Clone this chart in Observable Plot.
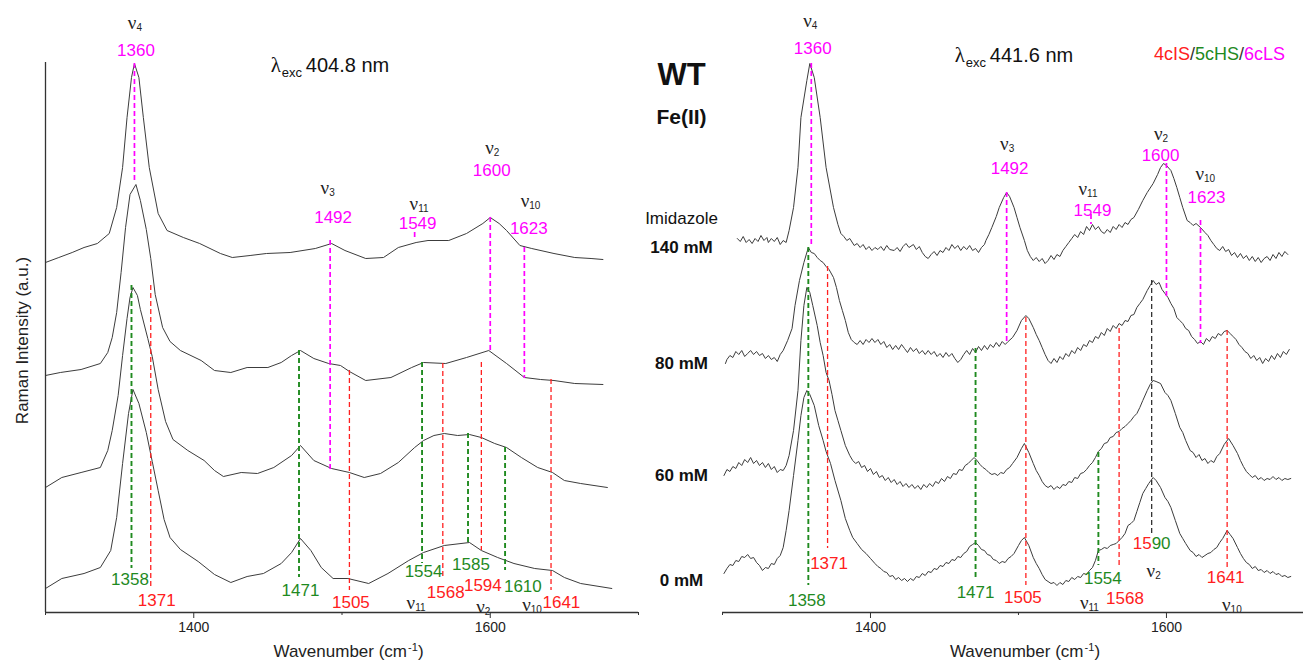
<!DOCTYPE html>
<html><head><meta charset="utf-8">
<script src="https://cdn.jsdelivr.net/npm/d3@7"></script>
<script src="https://cdn.jsdelivr.net/npm/@observablehq/plot@0.6"></script>
<style>
body{margin:0;background:#fff;}
#wrap{position:relative;width:1303px;height:665px;overflow:hidden;font-family:"Liberation Sans",Arial,sans-serif;}
#left{position:absolute;left:0;top:0;}
#right{position:absolute;left:650px;top:0;}
#legend{position:absolute;right:18px;top:44px;font-size:18px;white-space:nowrap;color:#333;}
</style></head><body>
<div id="wrap"><div id="left"></div><div id="right"></div>
<div id="legend"><span style="color:#ff2020">4cIS</span>/<span style="color:#1f8a1f">5cHS</span>/<span style="color:#ff00ff">6cLS</span></div>
</div>
<script>
// ---------- DATA ----------
const majorTicks = [1400, 1600];
const minorTicks = [1300, 1500, 1700];

// Left panel (λexc 404.8 nm), wavenumber (cm-1) vs Raman intensity (a.u., stacked)
const left1 = [[1300,350],[1309,355],[1318,360],[1326,365],[1335,369],[1343,379],[1348,405],[1352,445],[1355,495],[1358,535],[1360,549],[1363,535],[1366,495],[1370,445],[1376,399],[1382,382],[1393,375],[1404,369],[1418,359],[1426,355],[1438,357],[1449,359],[1465,360],[1482,364],[1493,369],[1502,362],[1516,354],[1528,355],[1538,365],[1550,370],[1558,372],[1572,372],[1584,379],[1595,389],[1600,395],[1606,389],[1611,382],[1620,367],[1628,364],[1643,359],[1657,355],[1668,354],[1676,353]];
const left2 = [[1300,237],[1310,240],[1324,243],[1337,249],[1342,260],[1345,275],[1348,300],[1351,340],[1354,385],[1357,418],[1361,428],[1364,412],[1368,383],[1371,354],[1374,318],[1379,285],[1384,271],[1391,262],[1405,252],[1414,242],[1425,240],[1436,245],[1450,245],[1459,250],[1466,257],[1472,262],[1481,254],[1491,249],[1499,247],[1505,241],[1516,232],[1533,235],[1547,245],[1555,250],[1570,249],[1584,255],[1599,262],[1611,249],[1623,235],[1634,233],[1643,232],[1657,229],[1676,228]];
const left3 = [[1300,125],[1311,135],[1324,140],[1337,145],[1342,162],[1345,182],[1349,217],[1352,257],[1355,294],[1357,315],[1359,325],[1362,317],[1364,303],[1369,274],[1372,256],[1376,223],[1381,191],[1386,173],[1396,162],[1407,152],[1414,142],[1420,136],[1432,140],[1443,139],[1454,145],[1466,157],[1472,167],[1481,152],[1493,144],[1505,140],[1515,135],[1526,139],[1538,150],[1549,165],[1555,172],[1562,177],[1569,179],[1578,177],[1586,178],[1594,175],[1603,169],[1611,165],[1621,155],[1632,145],[1642,140],[1650,132],[1661,129],[1679,125]];
const left4 = [[1300,24],[1311,34],[1326,39],[1337,45],[1344,62],[1348,95],[1352,149],[1356,199],[1359,223],[1363,209],[1368,180],[1372,151],[1376,122],[1380,93],[1384,75],[1391,63],[1403,51],[1414,38],[1425,30],[1436,36],[1447,39],[1459,49],[1466,60],[1472,74],[1479,62],[1486,45],[1494,34],[1504,34],[1518,29],[1531,39],[1545,52],[1555,60],[1569,67],[1586,70],[1594,62],[1605,55],[1616,49],[1630,44],[1642,42],[1650,35],[1661,29],[1682,24]];

// Right panel (λexc 441.6 nm), imidazole series
const right140 = [[1310,374],[1312,371],[1314,376],[1316,370],[1318,373],[1320,369],[1322,374],[1324,371],[1326,377],[1328,372],[1330,375],[1331,370],[1333,374],[1335,371],[1337,375],[1339,368],[1341,372],[1343,370],[1345,382],[1348,405],[1351,445],[1353,495],[1357,532],[1359,549],[1362,535],[1366,495],[1370,445],[1375,405],[1378,388],[1380,379],[1382,376],[1384,372],[1386,374],[1389,367],[1391,369],[1393,365],[1395,368],[1397,363],[1399,366],[1401,362],[1403,365],[1405,363],[1407,366],[1409,362],[1411,367],[1413,363],[1416,362],[1418,365],[1420,361],[1422,366],[1424,369],[1426,365],[1429,368],[1431,363],[1433,366],[1435,360],[1437,356],[1439,354],[1441,358],[1443,361],[1445,357],[1447,362],[1449,360],[1451,365],[1453,362],[1455,368],[1457,364],[1459,367],[1461,362],[1463,366],[1465,363],[1467,367],[1469,362],[1471,364],[1473,360],[1475,365],[1477,368],[1478,372],[1480,378],[1482,385],[1485,396],[1487,405],[1490,415],[1492,420],[1494,416],[1497,405],[1499,395],[1501,385],[1504,372],[1506,362],[1508,356],[1510,352],[1512,355],[1514,351],[1516,354],[1518,349],[1520,352],[1522,357],[1524,353],[1526,358],[1528,356],[1530,362],[1532,366],[1534,370],[1536,374],[1538,378],[1540,375],[1542,381],[1544,378],[1546,386],[1548,382],[1550,388],[1552,383],[1554,386],[1556,381],[1558,379],[1560,383],[1562,380],[1564,386],[1566,383],[1568,388],[1570,385],[1572,390],[1574,388],[1576,393],[1578,395],[1581,403],[1584,412],[1587,420],[1591,429],[1594,438],[1596,445],[1598,449],[1600,447],[1603,442],[1605,434],[1607,425],[1609,415],[1611,405],[1614,392],[1616,390],[1618,387],[1620,389],[1623,385],[1626,380],[1628,377],[1630,372],[1632,368],[1634,364],[1636,362],[1638,366],[1640,361],[1642,363],[1644,357],[1646,360],[1648,355],[1650,359],[1652,354],[1654,357],[1656,352],[1658,356],[1660,351],[1662,355],[1664,350],[1666,354],[1668,356],[1670,352],[1672,358],[1674,354],[1676,360],[1678,356],[1680,361],[1682,358]];
const right80 = [[1302,249],[1303,253],[1305,257],[1307,255],[1309,261],[1311,258],[1313,262],[1315,256],[1317,259],[1319,262],[1321,258],[1323,261],[1325,257],[1327,259],[1329,254],[1331,257],[1333,253],[1335,255],[1337,251],[1339,258],[1341,262],[1344,272],[1347,284],[1349,307],[1352,332],[1355,350],[1358,365],[1360,360],[1362,359],[1364,355],[1366,352],[1368,350],[1370,346],[1372,343],[1375,335],[1377,325],[1379,312],[1381,302],[1383,292],[1385,280],[1387,273],[1389,270],[1391,268],[1393,272],[1395,268],[1397,273],[1399,270],[1401,274],[1403,270],[1405,273],[1407,268],[1409,271],[1411,265],[1413,268],[1415,263],[1417,267],[1419,263],[1421,268],[1423,264],[1425,260],[1427,265],[1429,261],[1431,264],[1433,259],[1435,262],[1437,258],[1439,262],[1441,258],[1443,261],[1445,256],[1447,259],[1449,255],[1451,260],[1453,256],[1455,259],[1457,254],[1459,250],[1461,253],[1463,258],[1465,262],[1467,258],[1469,264],[1471,260],[1473,266],[1475,262],[1477,267],[1479,263],[1481,268],[1483,265],[1485,270],[1487,266],[1489,271],[1491,268],[1493,271],[1496,275],[1499,282],[1502,292],[1505,297],[1507,294],[1510,285],[1512,278],[1514,272],[1516,265],[1518,258],[1520,252],[1522,249],[1524,254],[1526,250],[1528,256],[1530,253],[1532,259],[1534,256],[1536,262],[1538,259],[1540,265],[1542,262],[1544,268],[1546,266],[1548,272],[1550,270],[1552,276],[1554,274],[1556,280],[1558,277],[1560,284],[1562,281],[1564,287],[1566,284],[1568,289],[1570,287],[1572,292],[1574,291],[1576,297],[1578,298],[1580,305],[1582,309],[1584,313],[1587,322],[1589,327],[1591,332],[1593,328],[1595,330],[1597,323],[1599,319],[1601,315],[1603,309],[1605,304],[1607,295],[1609,292],[1611,289],[1613,284],[1615,282],[1617,276],[1619,273],[1621,269],[1623,271],[1625,268],[1627,274],[1629,271],[1631,276],[1633,274],[1635,279],[1637,277],[1639,281],[1641,282],[1643,279],[1645,276],[1647,273],[1649,268],[1651,265],[1653,261],[1655,259],[1657,254],[1659,257],[1661,252],[1663,255],[1665,249],[1667,254],[1669,251],[1671,257],[1673,253],[1675,259],[1677,255],[1679,261],[1681,258],[1683,263]];
const right60 = [[1301,137],[1303,143],[1305,141],[1307,146],[1309,144],[1311,150],[1313,147],[1315,153],[1317,150],[1319,155],[1321,149],[1323,152],[1325,147],[1327,150],[1329,145],[1331,149],[1333,143],[1335,146],[1337,140],[1339,143],[1341,142],[1343,147],[1345,157],[1348,182],[1351,222],[1353,272],[1355,307],[1357,325],[1359,320],[1361,307],[1364,287],[1366,270],[1368,257],[1370,240],[1372,232],[1374,218],[1376,202],[1378,192],[1380,182],[1383,167],[1386,157],[1388,152],[1390,149],[1392,151],[1394,145],[1396,147],[1398,141],[1400,144],[1402,138],[1404,141],[1406,135],[1408,137],[1410,132],[1412,135],[1414,130],[1416,133],[1418,128],[1420,131],[1422,126],[1424,129],[1426,125],[1428,128],[1430,124],[1432,127],[1434,123],[1436,128],[1438,125],[1440,129],[1442,126],[1444,131],[1446,129],[1448,134],[1450,131],[1452,136],[1454,134],[1456,139],[1458,138],[1460,143],[1462,142],[1464,147],[1466,149],[1468,152],[1470,155],[1472,152],[1474,148],[1476,145],[1478,143],[1480,140],[1482,138],[1484,139],[1486,137],[1488,140],[1490,139],[1492,143],[1494,145],[1496,149],[1499,155],[1502,164],[1504,169],[1507,160],[1510,149],[1512,142],[1514,137],[1516,131],[1518,127],[1520,125],[1522,127],[1524,123],[1526,126],[1528,124],[1530,128],[1532,127],[1534,131],[1536,130],[1538,135],[1540,134],[1542,139],[1544,140],[1546,143],[1548,147],[1550,150],[1552,155],[1554,161],[1556,164],[1558,169],[1560,170],[1562,175],[1564,176],[1566,180],[1568,181],[1570,184],[1572,186],[1574,189],[1576,192],[1578,196],[1580,199],[1582,205],[1584,212],[1587,222],[1589,228],[1591,232],[1593,231],[1596,229],[1599,220],[1601,217],[1603,212],[1606,199],[1609,185],[1611,180],[1613,172],[1616,162],[1618,160],[1620,155],[1622,158],[1624,152],[1626,154],[1628,149],[1630,152],[1632,150],[1634,156],[1636,159],[1639,168],[1642,174],[1645,167],[1648,159],[1650,152],[1652,146],[1654,141],[1656,138],[1658,135],[1660,137],[1662,133],[1664,135],[1666,132],[1668,134],[1670,133],[1672,136],[1674,133],[1676,135],[1678,132],[1680,134],[1682,133],[1684,134]];
const right0 = [[1301,39],[1303,44],[1305,48],[1307,47],[1309,52],[1311,51],[1313,56],[1315,55],[1317,58],[1319,54],[1321,55],[1323,50],[1325,47],[1327,42],[1329,45],[1331,44],[1333,49],[1335,48],[1337,54],[1339,57],[1341,65],[1343,82],[1345,102],[1348,137],[1351,172],[1353,197],[1355,215],[1357,222],[1359,218],[1362,207],[1365,187],[1368,172],[1370,161],[1373,149],[1376,132],[1380,112],[1383,94],[1386,82],[1388,75],[1391,69],[1394,63],[1397,59],[1400,54],[1403,49],[1405,46],[1407,44],[1409,41],[1411,40],[1413,36],[1415,37],[1417,33],[1419,35],[1421,32],[1423,34],[1425,31],[1427,34],[1429,32],[1431,36],[1433,35],[1435,39],[1437,37],[1439,41],[1441,40],[1443,44],[1445,43],[1447,47],[1449,46],[1451,50],[1453,49],[1455,53],[1457,52],[1459,56],[1461,55],[1463,59],[1465,61],[1467,66],[1469,68],[1471,70],[1473,67],[1475,63],[1477,62],[1479,58],[1481,57],[1483,53],[1485,52],[1487,49],[1489,51],[1491,50],[1493,54],[1495,56],[1497,59],[1500,67],[1502,72],[1504,75],[1507,67],[1510,55],[1512,49],[1514,44],[1516,38],[1518,33],[1520,31],[1522,29],[1524,30],[1526,27],[1528,30],[1530,28],[1532,32],[1534,31],[1536,35],[1538,33],[1540,36],[1542,35],[1544,39],[1546,38],[1548,42],[1550,45],[1552,52],[1554,62],[1556,63],[1558,65],[1560,64],[1562,67],[1564,68],[1566,69],[1568,72],[1570,75],[1572,79],[1574,87],[1576,89],[1578,92],[1580,101],[1582,110],[1584,119],[1586,124],[1588,129],[1591,135],[1593,132],[1596,125],[1599,115],[1601,111],[1603,105],[1606,92],[1609,79],[1611,74],[1613,69],[1616,62],[1618,60],[1620,56],[1622,58],[1624,55],[1626,57],[1628,59],[1630,60],[1632,63],[1634,65],[1636,70],[1638,74],[1641,82],[1643,78],[1645,74],[1648,65],[1650,59],[1652,54],[1654,50],[1656,48],[1658,44],[1660,46],[1662,42],[1664,43],[1666,40],[1668,42],[1670,39],[1672,41],[1674,38],[1676,39],[1678,36],[1680,37],[1682,35],[1684,36]];

// Band marker lines: [wavenumber, top intensity, bottom intensity, class]
const leftBands = [
  [1360,549,430,"6cLS"],[1492,372,142,"6cLS"],[1549,380,372,"6cLS"],[1600,395,262,"6cLS"],[1623,365,234,"6cLS"],
  [1358,327,44,"5cHS"],[1471,262,35,"5cHS"],[1554,250,49,"5cHS"],[1585,179,69,"5cHS"],[1610,165,42,"5cHS"],
  [1371,327,24,"4cIS"],[1505,242,22,"4cIS"],[1568,249,34,"4cIS"],[1594,250,62,"4cIS"],[1641,233,22,"4cIS"]
];
const rightBands = [
  [1360,549,365,"6cLS"],[1492,420,270,"6cLS"],[1549,398,388,"6cLS"],[1600,449,315,"6cLS"],[1623,392,269,"6cLS"],
  [1358,365,27,"5cHS"],[1471,264,32,"5cHS"],[1554,160,47,"5cHS"],
  [1371,346,64,"4cIS"],[1505,295,27,"4cIS"],[1568,284,47,"4cIS"],[1641,282,44,"4cIS"],
  [1590,332,79,"mixed"]
];

// Band labels: [text, wavenumber, intensity, class, anchor]
const leftBandLabels = [
  ["1360",1361,562,"6cLS"],["1492",1494,395,"6cLS"],["1549",1551,389,"6cLS"],["1600",1601,442,"6cLS"],["1623",1626,384,"6cLS"],
  ["1358",1357,33,"5cHS"],["1371",1375,12,"4cIS"],["1471",1472,22,"5cHS"],["1505",1506,10,"4cIS"],["1554",1555,41,"5cHS"],
  ["1568",1570,20,"4cIS"],["1585",1587,48,"5cHS"],["1594",1595,27,"4cIS"],["1610",1622,26,"5cHS"],["1641",1648,10,"4cIS"]
];
const rightBandLabels = [
  ["1360",1361,564,"6cLS"],["1492",1494,444,"6cLS"],["1549",1550,402,"6cLS"],["1600",1596,457,"6cLS"],["1623",1627,415,"6cLS"],
  ["1358",1357,12,"5cHS"],["1371",1372,49,"4cIS"],["1471",1471,20,"5cHS"],["1505",1503,15,"4cIS"],["1554",1557,34,"5cHS"],
  ["1568",1572,14,"4cIS"],["1641",1640,35,"4cIS"],["15",1590,69,"4cIS","end"],["90",1590,69,"5cHS","start"]
];
// Mode labels ν_n: [subscript, wavenumber, intensity]
const leftModes = [["4",1360,590],["3",1490,425],["11",1550,409],["2",1601,465],["10",1625,412],["11",1548,10],["2",1595,6],["10",1626,8]];
const rightModes = [["4",1359,592],["3",1492,469],["11",1545,424],["2",1596,479],["10",1624,439],["11",1546,10],["2",1591,42],["10",1642,8]];

const excitation = [["404.8 nm",1452,547],["441.6 nm",1457,557]];
const sampleLabels = [["WT",537,"bold",31],["Fe(II)",495,"bold",21],["Imidazole",394,"normal",17],["140 mM",365,"bold",17],["80 mM",249,"bold",17],["60 mM",137,"bold",17],["0 mM",32,"bold",17]];

// ---------- STYLE ----------
const FONT = "'Liberation Sans', Arial, Helvetica, sans-serif";
const SERIF = "'Liberation Serif', 'Times New Roman', serif";
const COL = {"6cLS":"#ff00ff","5cHS":"#1f8a1f","4cIS":"#ff2020","mixed":"#333333"};
const WID = {"6cLS":1.7,"5cHS":1.9,"4cIS":1.3,"mixed":1.3};
const TRACE = "#3c3c3c";

function panel({traces, bands, labels, modes, exc, width, marginLeft, marginRight, domain, yAxis, extra}) {
  const marks = [];
  for (const t of traces) marks.push(Plot.line(t, {x: d => d[0], y: d => d[1], stroke: TRACE, strokeWidth: 1}));
  for (const cls of Object.keys(COL)) {
    const b = bands.filter(d => d[3] === cls);
    if (b.length) marks.push(Plot.ruleX(b, {x: d => d[0], y1: d => d[1], y2: d => d[2], stroke: COL[cls], strokeWidth: WID[cls], strokeDasharray: "5,3"}));
  }
  for (const cls of Object.keys(COL)) {
    for (const anchor of ["middle","start","end"]) {
      const l = labels.filter(d => d[3] === cls && (d[4] || "middle") === anchor);
      if (l.length) marks.push(Plot.text(l, {x: d => d[1], y: d => d[2], text: d => d[0], fill: COL[cls], fontSize: 17, fontFamily: FONT, textAnchor: anchor}));
    }
  }
  marks.push(Plot.text(modes, {x: d => d[1], y: d => d[2], text: () => "ν", fontFamily: SERIF, fontSize: 19, textAnchor: "end", dx: 2, fill: "#222"}));
  marks.push(Plot.text(modes, {x: d => d[1], y: d => d[2], text: d => d[0], fontFamily: FONT, fontSize: 10, textAnchor: "start", dx: 2, dy: 5, fill: "#222"}));
  marks.push(Plot.text([exc], {x: d => d[1], y: d => d[2], text: () => "λ", fontFamily: SERIF, fontSize: 21, textAnchor: "start", fill: "#111"}));
  marks.push(Plot.text([exc], {x: d => d[1], y: d => d[2], text: () => "exc", fontFamily: FONT, fontSize: 13, textAnchor: "start", dx: 11, dy: 7, fill: "#111"}));
  marks.push(Plot.text([exc], {x: d => d[1], y: d => d[2], text: d => d[0], fontFamily: FONT, fontSize: 20, textAnchor: "start", dx: 35, fill: "#111"}));
  // axes
  marks.push(Plot.ruleY([0], {stroke: "#333", strokeWidth: 1.3}));
  marks.push(Plot.axisX({ticks: majorTicks, tickSize: 6, tickPadding: 4, tickFormat: d => String(d), label: null, fontSize: 14, fill: "#222", stroke: "#333"}));
  marks.push(Plot.axisX({ticks: minorTicks.filter(t => t <= domain[1] + 0.5), tickSize: 3, tickFormat: () => "", label: null, stroke: "#333"}));
  marks.push(Plot.text(["Wavenumber (cm"], {x: () => 1500, frameAnchor: "bottom", text: d => d, dy: 44, dx: 65, textAnchor: "end", fontSize: 17, fontFamily: FONT, fill: "#222"}));
  marks.push(Plot.text(["-1"], {x: () => 1500, frameAnchor: "bottom", text: d => d, dy: 38, dx: 66, textAnchor: "start", fontSize: 11, fontFamily: FONT, fill: "#222"}));
  marks.push(Plot.text([")"], {x: () => 1500, frameAnchor: "bottom", text: d => d, dy: 44, dx: 76, textAnchor: "start", fontSize: 17, fontFamily: FONT, fill: "#222"}));
  if (yAxis) {
    marks.push(Plot.ruleX([1300], {y1: 0, y2: 550, stroke: "#333", strokeWidth: 1.3}));
    marks.push(Plot.text(["Raman Intensity (a.u.)"], {x: () => 1300, y: () => 272, text: d => d, rotate: -90, dx: -23, fontSize: 17, fontFamily: FONT, fill: "#222"}));
  }
  if (extra) marks.push(...extra);
  return Plot.plot({
    width, height: 665, marginLeft, marginRight, marginTop: 0, marginBottom: 53,
    x: {domain, axis: null}, y: {domain: [0, 612], axis: null},
    style: {background: "transparent", overflow: "visible", fontFamily: FONT},
    marks
  });
}

document.getElementById("left").append(panel({
  traces: [left1, left2, left3, left4], bands: leftBands, labels: leftBandLabels, modes: leftModes, exc: excitation[0],
  width: 650, marginLeft: 45, marginRight: 12, domain: [1300, 1700], yAxis: true
}));

const sampleMarks = sampleLabels.map(d => Plot.text([d], {frameAnchor: "left", y: s => s[1], text: s => s[0], dx: -41, textAnchor: "middle", fontWeight: d[2], fontSize: d[3], fontFamily: FONT, fill: "#111"}));
document.getElementById("right").append(panel({
  traces: [right140, right80, right60, right0], bands: rightBands, labels: rightBandLabels, modes: rightModes, exc: excitation[1],
  width: 653, marginLeft: 72, marginRight: 0, domain: [1300, 1692.6], yAxis: false, extra: sampleMarks
}));
</script>
</body></html>
